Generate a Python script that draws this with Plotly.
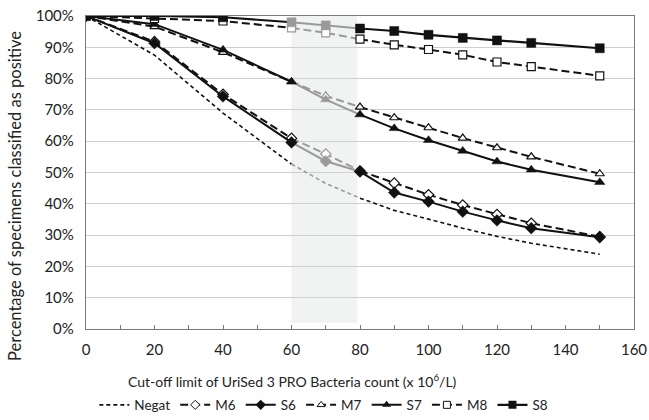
import plotly.graph_objects as go

x_vals = [0, 20, 40, 60, 70, 80, 90, 100, 110, 120, 130, 150]
negat = [100, 87.5, 69.0, 52.7, 46.5, 41.8, 37.9, 35.1, 32.2, 29.6, 27.4, 23.9]
m6 = [100, 91.8, 75.0, 60.9, 55.9, 50.5, 46.6, 42.9, 39.6, 36.6, 33.8, 29.5]
s6 = [100, 91.3, 74.3, 59.6, 53.6, 50.3, 43.6, 40.7, 37.5, 34.7, 32.2, 29.3]
m7 = [100, 96.6, 88.4, 79.0, 74.5, 70.9, 67.5, 64.3, 61.0, 57.9, 55.0, 49.6]
s7 = [100, 97.4, 89.2, 79.0, 73.3, 68.5, 64.1, 60.3, 56.9, 53.5, 50.9, 46.9]
m8 = [100, 99.2, 98.4, 96.2, 94.6, 92.6, 90.8, 89.3, 87.6, 85.3, 83.8, 80.9]
s8 = [100, 100, 99.6, 98.0, 97.0, 96.0, 95.2, 94.0, 93.0, 92.2, 91.4, 89.7]
y_ticks = [0, 10, 20, 30, 40, 50, 60, 70, 80, 90, 100]
x_ticks = [0, 20, 40, 60, 80, 100, 120, 140, 160]

BLACK = "#111111"
GRAY = "#9a9a9a"
FONT = "Lato"

series = [
    dict(name="Negat", y=negat, dash="4px,3px", width=1.6, symbol=None, open=False),
    dict(name="M6", y=m6, dash="8px,4px", width=2, symbol="diamond", open=True),
    dict(name="S6", y=s6, dash="solid", width=2, symbol="diamond", open=False),
    dict(name="M7", y=m7, dash="8px,4px", width=2, symbol="triangle-up", open=True),
    dict(name="S7", y=s7, dash="solid", width=2, symbol="triangle-up", open=False),
    dict(name="M8", y=m8, dash="8px,4px", width=2, symbol="square", open=True),
    dict(name="S8", y=s8, dash="solid", width=2.2, symbol="square", open=False),
]

fig = go.Figure()

# shaded region 60-80
fig.add_shape(type="rect", xref="x", yref="y", x0=60, x1=79.2, y0=2, y1=100,
              fillcolor="#f1f2f2", line=dict(width=0), layer="below")

segments = [(0, 4, BLACK), (3, 6, GRAY), (5, 12, BLACK)]

for s in series:
    for a, b, col in segments:
        fig.add_trace(go.Scatter(
            x=x_vals[a:b], y=s["y"][a:b], mode="lines",
            line=dict(color=col, width=s["width"], dash=s["dash"]),
            showlegend=False, hoverinfo="skip"))
    if s["symbol"]:
        cols = []
        for i, xv in enumerate(x_vals):
            if xv == 70 or (xv == 60 and s["name"] in ("M8", "S8", "M7")):
                cols.append(GRAY)
            else:
                cols.append(BLACK)
        if s["open"]:
            marker = dict(symbol=s["symbol"], size=8, color="white",
                          line=dict(color=cols, width=1.2))
        else:
            marker = dict(symbol=s["symbol"], size=9, color=cols,
                          line=dict(color=cols, width=0.5))
        fig.add_trace(go.Scatter(x=x_vals, y=s["y"], mode="markers",
                                 marker=marker, showlegend=False))
    # legend entry
    if s["symbol"]:
        if s["open"]:
            lm = dict(symbol=s["symbol"], size=7, color="white",
                      line=dict(color=BLACK, width=1))
        else:
            lm = dict(symbol=s["symbol"], size=8, color=BLACK)
        fig.add_trace(go.Scatter(x=[None], y=[None], mode="lines+markers", name=s["name"],
                                 line=dict(color=BLACK, width=s["width"], dash=s["dash"]),
                                 marker=lm))
    else:
        fig.add_trace(go.Scatter(x=[None], y=[None], mode="lines", name=s["name"],
                                 line=dict(color=BLACK, width=s["width"], dash=s["dash"])))

fig.update_layout(
    width=649, height=420,
    margin=dict(l=86, r=15, t=16, b=91, autoexpand=False),
    paper_bgcolor="white", plot_bgcolor="white",
    font=dict(family=FONT, size=14, color="#222222"),
    showlegend=True,
    legend=dict(orientation="h", x=0.434, xref="paper", xanchor="center",
                y=-0.243, yanchor="middle", font=dict(size=13.5, family=FONT),
                tracegroupgap=0, traceorder="normal",
                bgcolor="rgba(0,0,0,0)"),
    xaxis=dict(range=[0, 160], tickvals=x_ticks, ticktext=[str(v) for v in x_ticks],
               showgrid=False, zeroline=False, showline=True, linecolor="#7a7a7a",
               linewidth=1.3, mirror=True, ticks="inside", ticklen=4, tickcolor="#7a7a7a",
               minor=dict(dtick=10, tick0=0, ticks="inside", ticklen=4, tickcolor="#7a7a7a"),
               ticklabelstandoff=7, tickangle=0, tickfont=dict(size=15)),
    yaxis=dict(range=[0, 100], tickvals=y_ticks, ticktext=[f"{v}%" for v in y_ticks],
               showgrid=True, gridcolor="#cfcfcf", gridwidth=1, zeroline=False,
               showline=True, linecolor="#7a7a7a", linewidth=1.3, mirror=True,
               ticks="", ticklabelstandoff=8, tickfont=dict(size=15)),
    annotations=[
        dict(text="Cut-off limit of UriSed 3 PRO Bacteria count (x 10<sup>6</sup>/L)",
             xref="paper", yref="paper", x=0.376, y=-0.163, xanchor="center", yanchor="middle",
             showarrow=False, font=dict(size=14, family=FONT)),
        dict(text="Percentage of specimens classified as positive",
             xref="paper", yref="paper", x=-0.1296, y=0.425, xanchor="center", yanchor="middle",
             textangle=-90, showarrow=False, font=dict(size=16.5, family=FONT)),
    ],
)

fig.write_html("out.html")
